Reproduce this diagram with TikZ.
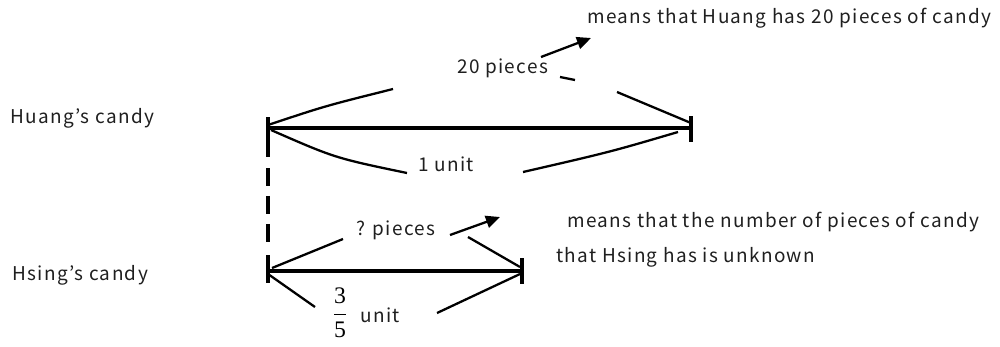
\documentclass[tikz,border=0pt]{standalone}
\usepackage{fontspec}
\setmainfont{Noto Sans CJK JP}[LetterSpace=7]
\newfontfamily\seriffont{Liberation Serif}
\usetikzlibrary{arrows.meta}
\begin{document}
\begin{tikzpicture}[x=0.02cm,y=-0.02cm,
  bar/.style={line width=2pt},
  tickmark/.style={line width=2.2pt},
  curve/.style={line width=1.3pt},
  pointer/.style={line width=1.3pt,-{Triangle[length=8pt,width=7pt]}},
  lbl/.style={font=\fontsize{10.8}{12}\selectfont, text=black!88, inner sep=0pt, anchor=base west}]
\useasboundingbox (0,0) rectangle (1000,346);
% bar end points
\coordinate (A1) at (268,128);
\coordinate (A2) at (691,128);
\coordinate (B1) at (268,271);
\coordinate (B2) at (522,271);
% bars
\draw[bar] (A1) -- (A2);
\draw[bar] (B1) -- (B2);
% ticks
\draw[tickmark] (268,117) -- (268,157);
\draw[tickmark] (691,116) -- (691,142);
\draw[tickmark] (268,255) -- (268,283);
\draw[tickmark] (522,258) -- (522,284);
% dashed link between the bars
\coordinate (D1) at (268,168);
\coordinate (D2) at (268,242);
\draw[tickmark, dash pattern=on 10.2pt off 5.7pt] (D1) -- (D2);
% labels
\node[lbl] (huang) at (10,123) {Huang’s candy};
\node[lbl] (hsing) at (12,280) {Hsing’s candy};
\node[lbl] (twenty) at (457,73) {20 pieces};
\node[lbl] (oneunit) at (418,171) {1 unit};
\node[lbl] (qpieces) at (356,235) {? pieces};
\node[lbl] (meanA) at (587,23) {means that Huang has 20 pieces of candy};
\node[lbl] (meanB1) at (567,227) {means that the number of pieces of candy};
\node[lbl] (meanB2) at (556,262) {that Hsing has is unknown};
\node[inner sep=0pt, font=\fontsize{13.5}{15}\selectfont] (frac) at (340,313)
  {$\displaystyle\frac{\hbox{\seriffont 3}}{\hbox{\seriffont 5}}$};
\node[lbl] (fracunit) at (360,322) {unit};
% top bar curves
\coordinate (TUL) at (393,89);
\coordinate (TUR) at (617,92);
\coordinate (TD1) at (560,77);
\coordinate (TD2) at (575,80);
\coordinate (TAs) at (541,57);
\coordinate (TAe) at (591,38);
\coordinate (TLL) at (407,173);
\coordinate (TLR) at (523,172);
\draw[curve] ([yshift=0.06cm]A1) .. controls (325,106) .. (TUL);
\draw[curve] (TUR) -- ([yshift=0.1cm]A2);
\draw[curve] (TD1) -- (TD2);
\draw[pointer] (TAs) -- (TAe);
\draw[curve] ([xshift=0.06cm,yshift=-0.04cm]A1) .. controls (335,158) .. (TLL);
\draw[curve] (TLR) .. controls (610,152) .. ([xshift=-0.26cm,yshift=-0.08cm]A2);
% bottom bar curves
\coordinate (BUL) at (343,239);
\coordinate (BUR) at (468,237);
\coordinate (BAs) at (450,235);
\coordinate (BAe) at (500,217);
\coordinate (BLL) at (315,307);
\coordinate (BLR) at (437,313);
\draw[curve] ([xshift=0.08cm,yshift=0.06cm]B1) -- (BUL);
\draw[pointer] (BAs) -- (BAe);
\draw[curve] (BUR) -- ([xshift=-0.04cm,yshift=0.08cm]B2);
\draw[curve] ([yshift=-0.06cm]B1) -- (BLL);
\draw[curve] (BLR) -- ([xshift=-0.04cm,yshift=-0.06cm]B2);
\end{tikzpicture}
\end{document}
